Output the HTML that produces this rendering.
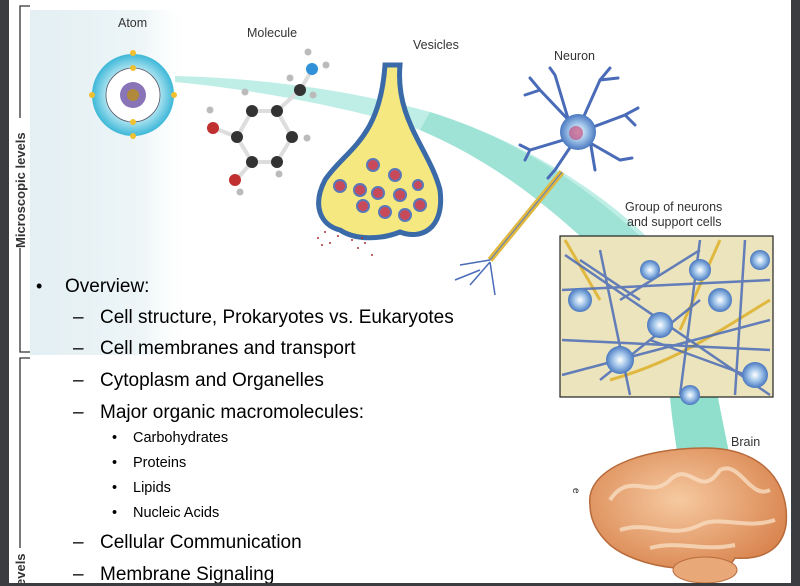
<!DOCTYPE html>
<html><head><meta charset="utf-8"><style>
html,body{margin:0;padding:0;background:#fff}
svg{display:block}
.l{font-family:"Liberation Sans",sans-serif;font-size:12.5px;fill:#333}
.t{font-family:"Liberation Sans",sans-serif;fill:#000}
</style></head><body>
<svg width="800" height="586" viewBox="0 0 800 586" xmlns="http://www.w3.org/2000/svg">
<defs>
<linearGradient id="pg" x1="0" x2="1"><stop offset="0" stop-color="#e3eff3"/><stop offset="0.7" stop-color="#edf5f7"/><stop offset="1" stop-color="#fff" stop-opacity="0"/></linearGradient>
<radialGradient id="at" cx="0.5" cy="0.5" r="0.5"><stop offset="0.6" stop-color="#bfeaf3"/><stop offset="1" stop-color="#3cb7d8"/></radialGradient>
<radialGradient id="br" cx="0.45" cy="0.4" r="0.6"><stop offset="0" stop-color="#f6c9a0"/><stop offset="1" stop-color="#d9854f"/></radialGradient>
<radialGradient id="ne" cx="0.5" cy="0.5" r="0.5"><stop offset="0" stop-color="#fff"/><stop offset="0.5" stop-color="#9fc3e8"/><stop offset="1" stop-color="#4a78c0"/></radialGradient>
</defs>
<rect width="800" height="586" fill="#fff"/>
<rect x="30" y="10" width="160" height="345" fill="url(#pg)"/>
<path d="M175,82 C260,90 360,110 420,130 C490,160 540,200 600,240 L650,240 C600,190 520,140 430,112 C350,90 260,78 175,76 Z" fill="#bfeee6"/>
<path d="M420,130 C490,160 540,200 580,236 L640,236 C590,190 520,140 430,112 Z" fill="#9fe3d6"/>
<path d="M670,397 L718,397 C722,420 728,445 732,470 L680,470 C676,445 672,420 670,397 Z" fill="#8fdfcc"/>
<path d="M30,6 H20 V352 H30" fill="none" stroke="#333" stroke-width="1.3"/>
<path d="M30,358 H20 V586" fill="none" stroke="#333" stroke-width="1.3"/>
<rect x="15" y="118" width="12" height="130" fill="#fff"/>
<text class="t" transform="translate(25,248) rotate(-90)" style="font-size:13px;font-weight:bold;fill:#333">Microscopic levels</text>
<rect x="15" y="548" width="12" height="38" fill="#fff"/>
<text class="t" transform="translate(25,586) rotate(-90)" style="font-size:13px;font-weight:bold;fill:#333">evels</text>
<circle cx="133" cy="95" r="41" fill="url(#at)"/>
<circle cx="133" cy="95" r="27" fill="#fff" stroke="#556" stroke-width="0.8"/>
<circle cx="133" cy="95" r="13" fill="#8a74b8"/>
<circle cx="133" cy="95" r="6" fill="#b08a3a"/>
<g fill="#f0c030"><circle cx="133" cy="53" r="3"/><circle cx="133" cy="68" r="3"/><circle cx="133" cy="122" r="3"/><circle cx="133" cy="136" r="3"/><circle cx="92" cy="95" r="3"/><circle cx="174" cy="95" r="3"/></g>
<text class="l" x="118" y="27">Atom</text>
<g stroke="#ddd" stroke-width="4" fill="none"><path d="M252,111 L277,111 L292,137 L277,162 L252,162 L237,137 Z"/><path d="M277,111 L300,90 L312,70"/><path d="M237,137 L214,128"/><path d="M252,162 L236,180"/></g>
<g fill="#333"><circle cx="252" cy="111" r="6"/><circle cx="277" cy="111" r="6"/><circle cx="292" cy="137" r="6"/><circle cx="277" cy="162" r="6"/><circle cx="252" cy="162" r="6"/><circle cx="237" cy="137" r="6"/><circle cx="300" cy="90" r="6"/></g>
<circle cx="312" cy="69" r="6" fill="#3090d8"/><circle cx="213" cy="128" r="6" fill="#c03030"/><circle cx="235" cy="180" r="6" fill="#c03030"/>
<g fill="#bbb"><circle cx="245" cy="92" r="3.5"/><circle cx="307" cy="138" r="3.5"/><circle cx="279" cy="174" r="3.5"/><circle cx="210" cy="110" r="3.5"/><circle cx="240" cy="192" r="3.5"/><circle cx="308" cy="52" r="3.5"/><circle cx="326" cy="65" r="3.5"/><circle cx="290" cy="78" r="3.5"/><circle cx="313" cy="95" r="3.5"/></g>
<text class="l" x="247" y="37">Molecule</text>
<path d="M400,65 C395,120 430,150 440,190 C445,230 420,240 400,232 C380,240 355,240 340,230 C320,225 312,205 325,180 C345,150 380,140 385,65 Z" fill="#f5e880" stroke="#3a6aa8" stroke-width="5"/>
<g fill="#c84a5a" stroke="#5a78b8" stroke-width="2"><circle cx="373" cy="165" r="6"/><circle cx="395" cy="175" r="6"/><circle cx="340" cy="186" r="6"/><circle cx="360" cy="190" r="6"/><circle cx="378" cy="193" r="6"/><circle cx="400" cy="195" r="6"/><circle cx="363" cy="206" r="6"/><circle cx="385" cy="212" r="6"/><circle cx="405" cy="215" r="6"/><circle cx="420" cy="205" r="6"/><circle cx="418" cy="185" r="5"/></g>
<g fill="#a33"><circle cx="318" cy="238" r="1"/><circle cx="325" cy="232" r="1"/><circle cx="330" cy="243" r="1"/><circle cx="322" cy="245" r="1"/><circle cx="338" cy="236" r="1"/><circle cx="352" cy="240" r="1"/><circle cx="358" cy="248" r="1"/><circle cx="365" cy="243" r="1"/><circle cx="372" cy="255" r="1"/><circle cx="362" cy="238" r="1"/></g>
<text class="l" x="413" y="49">Vesicles</text>
<g stroke="#4a6cb8" stroke-width="3" fill="none" stroke-linecap="round">
<path d="M578,130 L540,90 L530,78 M540,90 L525,95"/><path d="M580,125 L600,80 L610,68 M600,80 L618,78"/><path d="M585,130 L625,115 L638,108 M625,115 L635,125"/><path d="M580,135 L530,150 L520,145 M530,150 L525,160"/><path d="M585,140 L620,160 L632,158"/><path d="M575,140 L555,170 L548,178"/><path d="M590,140 L595,170"/><path d="M570,125 L555,75 L550,68"/>
</g>
<circle cx="578" cy="132" r="18" fill="url(#ne)"/>
<circle cx="576" cy="133" r="7" fill="#c05080" opacity="0.7"/>
<path d="M562,172 L490,260" stroke="#e0b840" stroke-width="6"/>
<path d="M562,172 L490,260" stroke="#5a7cc0" stroke-width="1"/>
<g stroke="#4a6cb8" stroke-width="1.5" fill="none"><path d="M490,260 L460,265 M490,262 L470,285 M490,262 L495,295 M480,270 L455,280"/></g>
<text class="l" x="554" y="60">Neuron</text>
<text class="l" x="625" y="211">Group of neurons</text>
<text class="l" x="627" y="226">and support cells</text>
<rect x="560" y="236" width="213" height="161" fill="#ece4bc" stroke="#222" stroke-width="1.2"/>
<g stroke="#e0b840" stroke-width="3" fill="none"><path d="M565,240 L600,300 M720,240 L680,330 M610,380 C680,360 720,330 770,300"/></g>
<g stroke="#4a6cb8" stroke-width="2.5" fill="none" opacity="0.85">
<path d="M562,290 L770,280 M562,340 L770,350 M600,250 L630,395 M700,240 L680,395 M745,240 L735,395 M562,375 L770,320 M565,255 L770,395"/>
<path d="M580,260 L640,300 M620,300 L700,250 M650,340 L760,380 M600,380 L700,300"/>
</g>
<g fill="url(#ne)"><circle cx="580" cy="300" r="12"/><circle cx="620" cy="360" r="14"/><circle cx="660" cy="325" r="13"/><circle cx="720" cy="300" r="12"/><circle cx="755" cy="375" r="13"/><circle cx="650" cy="270" r="10"/><circle cx="700" cy="270" r="11"/><circle cx="760" cy="260" r="10"/><circle cx="690" cy="395" r="10"/></g>
<text class="l" x="731" y="446">Brain</text>
<path d="M590,505 C585,470 640,448 705,448 C765,448 790,485 786,525 C782,550 762,560 735,558 C722,580 690,584 675,568 C645,565 622,555 610,545 C597,533 590,520 590,505 Z" fill="url(#br)" stroke="#b86a3a" stroke-width="1.5"/>
<g stroke="#f8dcc0" stroke-width="4" fill="none" opacity="0.8"><path d="M610,500 C630,470 650,500 670,480 C690,460 700,500 720,470 C740,460 750,500 770,490"/><path d="M620,530 C650,520 670,540 700,525 C720,515 745,530 775,520"/><path d="M650,548 C680,540 700,552 735,545"/></g>
<ellipse cx="705" cy="570" rx="32" ry="13" fill="#e8a878" stroke="#b86a3a"/>
<text class="l" x="574" y="495" style="font-size:10px" transform="rotate(90 577 491)">e</text>
<g class="t">
<text x="36" y="292" style="font-size:18px">•</text>
<text x="65" y="292" style="font-size:19px">Overview:</text>
<g style="font-size:19px">
<text x="73" y="323">–</text><text x="100" y="323">Cell structure, Prokaryotes vs. Eukaryotes</text>
<text x="73" y="354">–</text><text x="100" y="354">Cell membranes and transport</text>
<text x="73" y="386">–</text><text x="100" y="386">Cytoplasm and Organelles</text>
<text x="73" y="418">–</text><text x="100" y="418">Major organic macromolecules:</text>
<text x="73" y="548">–</text><text x="100" y="548">Cellular Communication</text>
<text x="73" y="580">–</text><text x="100" y="580">Membrane Signaling</text>
</g>
<g style="font-size:14.5px">
<text x="112" y="442">•</text><text x="133" y="442">Carbohydrates</text>
<text x="112" y="467">•</text><text x="133" y="467">Proteins</text>
<text x="112" y="492">•</text><text x="133" y="492">Lipids</text>
<text x="112" y="517">•</text><text x="133" y="517">Nucleic Acids</text>
</g>
</g>
<rect x="0" y="0" width="9" height="586" fill="#3a3c40"/>
<rect x="791" y="0" width="9" height="586" fill="#3a3c40"/>
<rect x="0" y="583" width="800" height="3" fill="#3a3c40"/>
</svg>
</body></html>
